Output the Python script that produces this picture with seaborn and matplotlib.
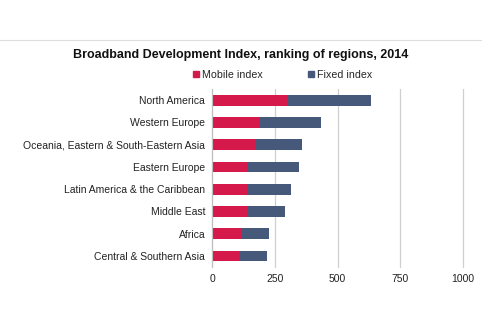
import matplotlib
matplotlib.use("Agg")
import matplotlib.pyplot as plt
from matplotlib.lines import Line2D
import seaborn as sns
import pandas as pd
import numpy as np

regions = ["North America", "Western Europe", "Oceania, Eastern & South-Eastern Asia",
           "Eastern Europe", "Latin America & the Caribbean", "Middle East",
           "Africa", "Central & Southern Asia"]
mobile = [300, 191, 171, 141, 141, 143, 120, 110]
fixed = [333, 243, 189, 206, 174, 149, 106, 109]
xticks = [0, 250, 500, 750, 1000]

mobile_color = "#D6194B"
fixed_color = "#46597A"

sns.set_theme(style="white")
plt.rcParams['font.family'] = ['Liberation Sans', 'DejaVu Sans']

df = pd.DataFrame({"region": regions, "mobile": mobile, "fixed": fixed})
df["total"] = df["mobile"] + df["fixed"]

fig = plt.figure(figsize=(4.82, 3.21), dpi=100)
ax = fig.add_axes([0.44, 0.168, 0.5207, 0.5545])

sns.barplot(data=df, y="region", x="total", color=fixed_color, width=0.48,
            saturation=1, ax=ax, orient="h", linewidth=0, edgecolor="none")
sns.barplot(data=df, y="region", x="mobile", color=mobile_color, width=0.48,
            saturation=1, ax=ax, orient="h", linewidth=0, edgecolor="none")

ax.set_xlim(0, 1000)
ax.set_ylim(len(regions) - 0.5, -0.5)
ax.set_xticks(xticks)
ax.set_xticklabels([str(t) for t in xticks], fontsize=7.5, color="#222222")
ax.set_xlabel("")
ax.set_ylabel("")
ax.tick_params(axis="y", which="major", length=0, labelsize=7.5, labelcolor="#222222", pad=5)
ax.tick_params(axis="x", which="major", length=0, pad=5)
ax.set_yticks(np.arange(-0.5, len(regions), 1.0), minor=True)
ax.tick_params(axis="y", which="minor", length=3.5, color="#BFBFBF", width=0.8)
ax.grid(axis="x", color="#CFCFCF", linewidth=0.9)
for gl in ax.get_xgridlines():
    gl.set_clip_on(False)
ax.set_axisbelow(True)
for s in ["top", "right", "bottom"]:
    ax.spines[s].set_visible(False)
ax.spines["left"].set_color("#BFBFBF")
ax.spines["left"].set_linewidth(0.8)

fig.add_artist(Line2D([0, 1], [0.876, 0.876], transform=fig.transFigure,
                      color="#DDDDDD", linewidth=0.8))
fig.text(0.4995, 0.828, "Broadband Development Index, ranking of regions, 2014",
         ha="center", va="center", fontsize=9.0, fontweight="bold", color="#111111")

handles = [Line2D([], [], marker="s", linestyle="", color=mobile_color, markersize=5),
           Line2D([], [], marker="s", linestyle="", color=fixed_color, markersize=5)]
fig.legend(handles, ["Mobile index", "Fixed index"], loc="center",
           bbox_to_anchor=(0.585, 0.766), ncol=2, frameon=False, fontsize=7.7,
           handletextpad=0.1, columnspacing=4.2, handlelength=0.8)

fig.savefig("out.png", dpi=100)
